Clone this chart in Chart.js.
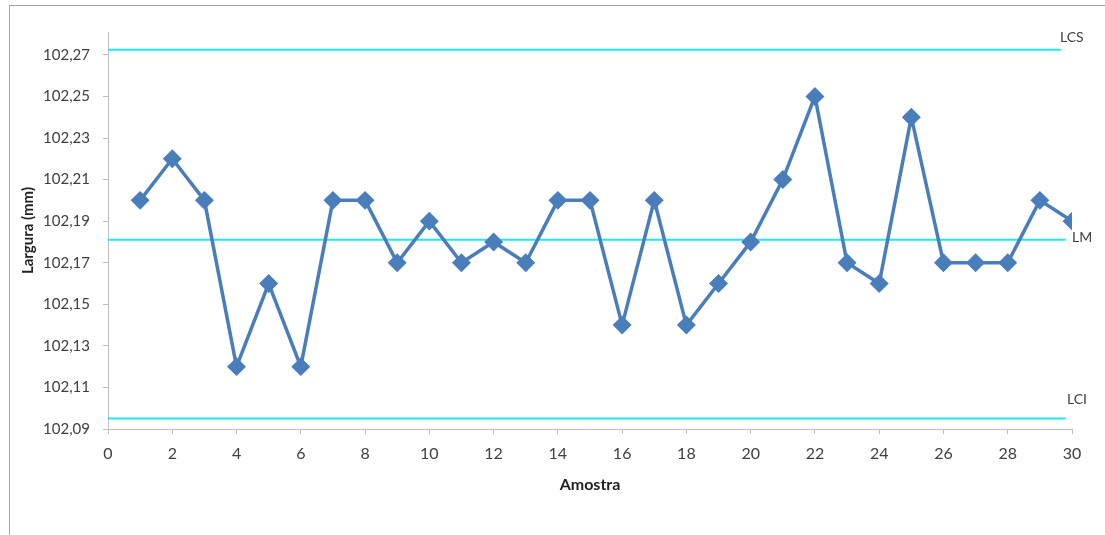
<!DOCTYPE html>
<html>
<head>
<meta charset="utf-8">
<script src="https://cdn.jsdelivr.net/npm/chart.js@4.4.1/dist/chart.umd.min.js"></script>
<style>
    body { margin: 0; background: #fff; }
    #wrap { width: 1105px; height: 535px; position: relative; }
</style>
</head>
<body>
<div id="wrap"><canvas id="chart"></canvas></div>
<script>
// sample numbers and measured widths
const amostras = [1, 2, 3, 4, 5, 6, 7, 8, 9, 10, 11, 12, 13, 14, 15, 16, 17, 18, 19, 20, 21, 22, 23, 24, 25, 26, 27, 28, 29, 30];
const larguras = [102.20, 102.22, 102.20, 102.12, 102.16, 102.12, 102.20, 102.20, 102.17, 102.19,
                  102.17, 102.18, 102.17, 102.20, 102.20, 102.14, 102.20, 102.14, 102.16, 102.18,
                  102.21, 102.25, 102.17, 102.16, 102.24, 102.17, 102.17, 102.17, 102.20, 102.19];

// control limits
const limitNames = ['LCS', 'LM', 'LCI'];
const limitValues = [102.2725, 102.181, 102.095];
const limitEnds = [29.65, 29.8, 29.8];

// axis ticks
const yTicks = [102.09, 102.11, 102.13, 102.15, 102.17, 102.19, 102.21, 102.23, 102.25, 102.27];
const yMin = 102.09;
const yMax = 102.281;

const axisColor = '#bfbfbf';
const textColor = '#404040';
const fontFamily = 'Lato, "Open Sans", sans-serif';

// draw the grey frame round the chart
const framePlugin = {
    id: 'frame',
    beforeDraw(chart) {
        const c = chart.ctx;
        c.save();
        c.fillStyle = '#fff';
        c.fillRect(0, 0, chart.width, chart.height);
        c.strokeStyle = '#a6a6a6';
        c.lineWidth = 1;
        c.strokeRect(9.5, 5.5, chart.width + 20, chart.height + 20);
        c.restore();
    }
};

// LCS / LM / LCI texts at the end of the limit lines
const labelOffsets = [[-12, -12], [0, -2], [-5, -19]];
const limitLabelPlugin = {
    id: 'limitLabels',
    afterDatasetsDraw(chart) {
        const c = chart.ctx;
        const xs = chart.scales.x;
        const ys = chart.scales.y;
        c.save();
        c.font = '14px ' + fontFamily;
        c.fillStyle = textColor;
        c.textAlign = 'left';
        c.textBaseline = 'middle';
        limitNames.forEach((name, i) => {
            const x = xs.getPixelForValue(30) + labelOffsets[i][0];
            const y = ys.getPixelForValue(limitValues[i]) + labelOffsets[i][1];
            c.fillText(name, x, y);
        });
        c.restore();
    }
};

const limitDatasets = limitNames.map((name, i) => ({
    label: name,
    data: [{ x: 0, y: limitValues[i] }, { x: limitEnds[i], y: limitValues[i] }],
    borderColor: '#1ee8f0',
    borderWidth: 2,
    pointRadius: 0,
    fill: false
}));

new Chart(document.getElementById('chart'), {
    type: 'line',
    data: {
        datasets: [{
            label: 'Largura',
            data: amostras.map((a, i) => ({ x: a, y: larguras[i] })),
            borderColor: '#4a7ebb',
            backgroundColor: '#4a7ebb',
            borderWidth: 3.5,
            pointStyle: 'rectRot',
            pointRadius: 7,
            pointHoverRadius: 7,
            tension: 0,
            fill: false
        }, ...limitDatasets]
    },
    options: {
        responsive: true,
        maintainAspectRatio: false,
        animation: false,
        layout: { padding: { top: 32, right: 33, left: 0, bottom: 0 } },
        plugins: {
            legend: { display: false },
            tooltip: { enabled: false }
        },
        scales: {
            x: {
                type: 'linear',
                min: 0,
                max: 30,
                ticks: { stepSize: 2, color: textColor, font: { family: fontFamily, size: 16 }, padding: 10, maxRotation: 0 },
                grid: { drawOnChartArea: false, tickLength: 5, color: axisColor },
                border: { color: axisColor },
                title: { display: true, text: 'Amostra', color: '#222', font: { family: fontFamily, size: 16, weight: 'bold' }, padding: { top: 0, bottom: 41 } },
                afterFit(scale) { scale.height = 106; }
            },
            y: {
                min: yMin,
                max: yMax,
                afterBuildTicks(scale) { scale.ticks = yTicks.map(v => ({ value: v })); },
                ticks: {
                    color: textColor,
                    font: { family: fontFamily, size: 15 },
                    padding: 13,
                    callback: v => v.toFixed(2).replace('.', ',')
                },
                grid: { drawOnChartArea: false, tickLength: 5, color: axisColor },
                border: { color: axisColor },
                title: { display: true, text: 'Largura (mm)', color: '#222', font: { family: fontFamily, size: 15, weight: 'bold' }, padding: { top: 19, bottom: 0 } },
                afterFit(scale) { scale.width = 108; }
            }
        }
    },
    plugins: [framePlugin, limitLabelPlugin]
});
</script>
</body>
</html>
